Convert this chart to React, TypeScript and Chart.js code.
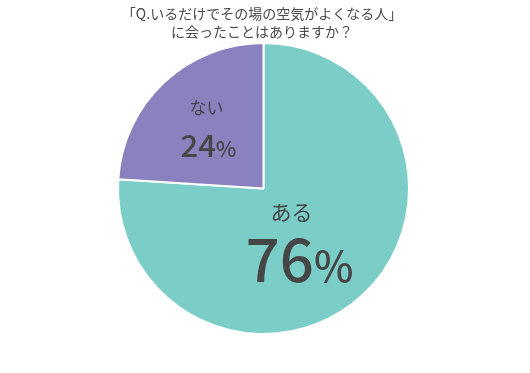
import React, { useEffect, useRef } from "react";
import { Chart, registerables } from "chart.js";

Chart.register(...registerables);

const titleLines = ["「Q.いるだけでその場の空気がよくなる人」", "に会ったことはありますか？"];
const categories = ["ある", "ない"];
const values = [76, 24];
const colors = ["#7bcdc7", "#8a82bf"];

const JP = '"Noto Sans CJK JP", "Noto Sans", sans-serif';

const labelPlugin = {
  id: "pieLabels",
  afterDraw(chart: any) {
    const ctx = chart.ctx;
    const meta = chart.getDatasetMeta(0);
    const arc = meta.data[0];
    if (!arc) return;
    const cx = arc.x;
    const cy = arc.y;
    ctx.save();
    ctx.textBaseline = "alphabetic";

    // title
    ctx.textAlign = "center";
    ctx.font = `14px ${JP}`;
    ctx.fillStyle = "#4a4a4a";
    ctx.fillText(titleLines[0], 262, 19);
    ctx.fillText(titleLines[1], 262, 37);

    ctx.fillStyle = "#464646";
    const drawPct = (v: number, x: number, y: number, big: number, small: number) => {
      const num = String(v);
      ctx.font = `500 ${big}px ${JP}`;
      const w1 = ctx.measureText(num).width;
      ctx.font = `500 ${small}px ${JP}`;
      const w2 = ctx.measureText("%").width;
      const start = x - (w1 + w2) / 2;
      ctx.textAlign = "left";
      ctx.font = `500 ${big}px ${JP}`;
      ctx.fillText(num, start, y);
      ctx.font = `500 ${small}px ${JP}`;
      ctx.fillText("%", start + w1, y);
    };

    // ある 76%
    ctx.textAlign = "center";
    ctx.font = `21px ${JP}`;
    ctx.fillText(categories[0], cx + 28, cy + 31);
    drawPct(values[0], cx + 36, cy + 93, 60, 42);

    // ない 24%
    ctx.textAlign = "center";
    ctx.font = `17px ${JP}`;
    ctx.fillText(categories[1], cx - 57, cy - 75);
    drawPct(values[1], cx - 55, cy - 32, 31, 22);
    ctx.restore();
  },
};

export default function App() {
  const ref = useRef<HTMLCanvasElement>(null);
  useEffect(() => {
    document.body.style.margin = "0";
    const chart = new Chart(ref.current!, {
      type: "pie",
      data: {
        labels: categories,
        datasets: [
          {
            data: values,
            backgroundColor: colors,
            borderColor: "#ffffff",
            borderWidth: 2,
            hoverOffset: 0,
          },
        ],
      },
      options: {
        responsive: false,
        animation: false,
        layout: { padding: { top: 42, bottom: 38, left: 0, right: 3 } },
        plugins: {
          legend: { display: false },
          title: { display: false },
          tooltip: { enabled: false },
        },
      },
      plugins: [labelPlugin],
    });
    return () => chart.destroy();
  }, []);
  return (
    <div style={{ width: 530, height: 373, background: "#fff" }}>
      <canvas ref={ref} width={530} height={373} />
    </div>
  );
}
